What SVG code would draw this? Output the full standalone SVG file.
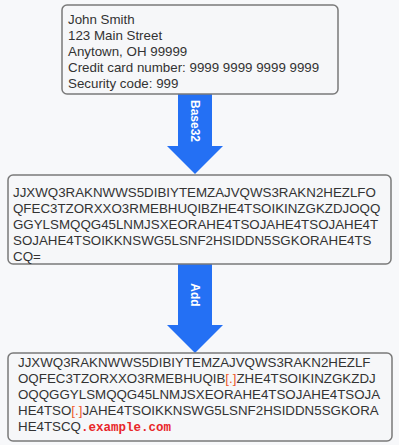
<svg xmlns="http://www.w3.org/2000/svg" width="399" height="445" viewBox="0 0 399 445">
  <style>
    .box { fill: #f6f7f9; stroke: #7a7a7a; stroke-width: 1.5; }
    .txt { font-family: "Liberation Sans", Arial, sans-serif; font-size: 13.33px; fill: #333333; }
    .hl { fill: #ee5a2c; }
    .dom { font-family: "Liberation Mono", "Courier New", monospace; font-size: 12.5px; font-weight: bold; fill: #e8262a; }
    .arrow { fill: #2470f4; }
    .lbl { font-family: "Liberation Sans", Arial, sans-serif; font-size: 12px; font-weight: bold; fill: #ffffff; }
  </style>
  <rect width="399" height="445" fill="#f7f8fa"/>

  <g id="connectors">
    <g id="arrow-base32">
      <polygon class="arrow" points="178,94 212,94 212,146 223,146 195,174 167,146 178,146"/>
      <text class="lbl" transform="translate(191,121) rotate(90)" text-anchor="middle">Base32</text>
    </g>
    <g id="arrow-add">
      <polygon class="arrow" points="178,264 212,264 212,325 223,325 195,353 167,325 178,325"/>
      <text class="lbl" transform="translate(191,295) rotate(90)" text-anchor="middle">Add</text>
    </g>
  </g>

  <g id="plain-data">
    <rect class="box" x="62" y="5" width="276" height="89" rx="5"/>
    <text class="txt" x="68" y="24">John Smith</text>
    <text class="txt" x="68" y="40">123 Main Street</text>
    <text class="txt" x="68" y="56">Anytown, OH 99999</text>
    <text class="txt" x="68" y="72">Credit card number: 9999 9999 9999 9999</text>
    <text class="txt" x="68" y="88">Security code: 999</text>
  </g>

  <g id="encoded-data">
    <rect class="box" x="8" y="175" width="383" height="89" rx="5"/>
    <text class="txt" x="13" y="197">JJXWQ3RAKNWWS5DIBIYTEMZAJVQWS3RAKN2HEZLFO</text>
    <text class="txt" x="13" y="213">QFEC3TZORXXO3RMEBHUQIBZHE4TSOIKINZGKZDJOQQ</text>
    <text class="txt" x="13" y="229">GGYLSMQQG45LNMJSXEORAHE4TSOJAHE4TSOJAHE4T</text>
    <text class="txt" x="13" y="245">SOJAHE4TSOIKKNSWG5LSNF2HSIDDN5SGKORAHE4TS</text>
    <text class="txt" x="13" y="261">CQ=</text>
  </g>

  <g id="dns-query">
    <rect class="box" x="8" y="353" width="384" height="88" rx="5"/>
    <text class="txt" x="18" y="367">JJXWQ3RAKNWWS5DIBIYTEMZAJVQWS3RAKN2HEZLF</text>
    <text class="txt" x="18" y="383">OQFEC3TZORXXO3RMEBHUQIB<tspan class="hl">[.]</tspan>ZHE4TSOIKINZGKZDJ</text>
    <text class="txt" x="18" y="399">OQQGGYLSMQQG45LNMJSXEORAHE4TSOJAHE4TSOJA</text>
    <text class="txt" x="18" y="415">HE4TSO<tspan class="hl">[.]</tspan>JAHE4TSOIKKNSWG5LSNF2HSIDDN5SGKORA</text>
    <text class="txt" x="18" y="431">HE4TSCQ<tspan class="dom">.example.com</tspan></text>
  </g>
</svg>
